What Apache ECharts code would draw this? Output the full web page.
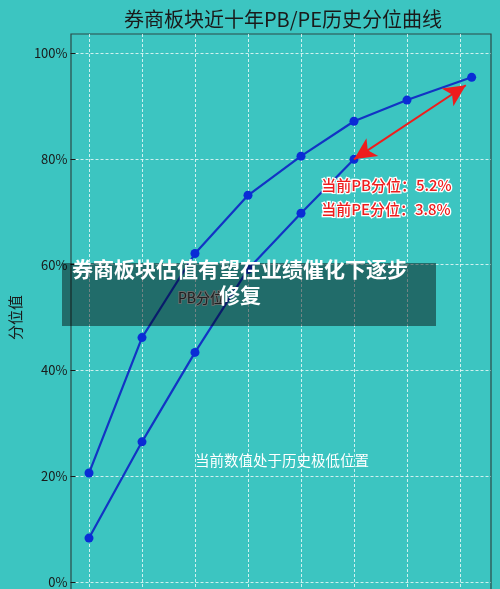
<!DOCTYPE html>
<html>
<head>
<meta charset="utf-8">
<script src="https://cdn.jsdelivr.net/npm/echarts@6/dist/echarts.min.js"></script>
<style>
  html, body { margin: 0; padding: 0; background: #3cc5c1; }
  #chart { width: 500px; height: 589px; }
</style>
</head>
<body>
<div id="chart"></div>
<script>
// 年份位置（最后一个点略超过 2022）
const pbYears = [2015, 2016, 2017, 2018, 2019, 2020, 2021, 2022.22];
const pbValues = [20.6, 46.2, 62.1, 73.1, 80.5, 87.1, 91.1, 95.4];
const peYears = [2015, 2016, 2017, 2018, 2019, 2020];
const peValues = [8.3, 26.5, 43.4, 59.1, 69.7, 79.9];
const yTicks = [0, 20, 40, 60, 80, 100];
const arrowFrom = [2020, 79.9];
const arrowTo = [2022.11, 93.9];

const chartDom = document.getElementById('chart');
const myChart = echarts.init(chartDom);

const colors = {
    line: '#1234c4',
    dot: '#0a2cd6',
    grid: 'rgba(255,255,255,0.75)',
    axis: '#2b4a48',
    red: '#ee1d1d'
};
const font = '"Noto Sans CJK SC", "Noto Sans", sans-serif';

const toPairs = (xs, ys) => xs.map((x, i) => [x, ys[i]]);

const option = {
    backgroundColor: '#3cc5c1',
    animation: false,
    title: {
        text: '券商板块近十年PB/PE历史分位曲线',
        left: 278,
        textAlign: 'center',
        top: 4,
        textStyle: { color: '#1a1a1a', fontSize: 20, fontWeight: 'normal', fontFamily: font }
    },
    grid: [
        // 0: 纵向网格（全高）
        { left: 89, right: 40, top: 34, bottom: -20 },
        // 1: 横向网格 + y 轴
        { left: 71, right: 9, top: 53, bottom: 7 },
        // 2: 数据（右侧延伸到边框）
        { left: 89, right: 9, top: 53, bottom: 7 }
    ],
    xAxis: [
        {
            gridIndex: 0, type: 'value', min: 2015, max: 2022, interval: 1,
            axisLine: { show: false }, axisTick: { show: false }, axisLabel: { show: false },
            splitLine: { show: true, lineStyle: { color: colors.grid, type: [3, 2], width: 1 } }
        },
        {
            gridIndex: 1, type: 'value', min: 0, max: 1,
            axisLine: { show: false }, axisTick: { show: false }, axisLabel: { show: false },
            splitLine: { show: false }
        },
        {
            gridIndex: 2, type: 'value', min: 2015, max: 2022.585,
            axisLine: { show: false }, axisTick: { show: false }, axisLabel: { show: false },
            splitLine: { show: false }
        }
    ],
    yAxis: [
        {
            gridIndex: 0, type: 'value', min: 0, max: 1,
            axisLine: { show: false }, axisTick: { show: false }, axisLabel: { show: false },
            splitLine: { show: false }
        },
        {
            gridIndex: 1, type: 'value', min: yTicks[0], max: yTicks[yTicks.length - 1], interval: 20,
            name: '分位值',
            nameLocation: 'middle',
            nameGap: 45,
            nameRotate: 90,
            nameTextStyle: { color: '#1a1a1a', fontSize: 15, fontFamily: font },
            axisLine: { show: false },
            axisTick: { show: true, length: 5, lineStyle: { color: '#1a1a1a' } },
            axisLabel: {
                color: '#1a1a1a', fontSize: 13, fontFamily: font, margin: 8,
                formatter: v => v + '%'
            },
            splitLine: { show: true, lineStyle: { color: colors.grid, type: [3, 2], width: 1 } }
        },
        {
            gridIndex: 2, type: 'value', min: 0, max: 100,
            axisLine: { show: false }, axisTick: { show: false }, axisLabel: { show: false },
            splitLine: { show: false }
        }
    ],
    graphic: [
        {
            type: 'rect',
            shape: { x: 71, y: 34, width: 420, height: 570 },
            style: { fill: 'none', stroke: colors.axis, lineWidth: 1.2 },
            silent: true
        },
        {
            type: 'text',
            left: 177, top: 290, z: 10,
            style: {
                text: 'PB分位', fontSize: 14, fontFamily: font, fill: '#3a3a3a',
                stroke: '#b8c4c4', lineWidth: 2
            }
        },
        {
            type: 'text',
            left: 320, top: 177, z: 10,
            style: {
                text: '当前PB分位：5.2%', fontSize: 15, fontWeight: 500, fontFamily: font, fill: colors.red,
                stroke: '#ffffff', lineWidth: 2.5
            }
        },
        {
            type: 'text',
            left: 320, top: 201, z: 10,
            style: {
                text: '当前PE分位：3.8%', fontSize: 15, fontWeight: 500, fontFamily: font, fill: colors.red,
                stroke: '#ffffff', lineWidth: 2.5
            }
        },
        {
            type: 'text',
            left: 195, top: 453, z: 10,
            style: {
                text: '当前数值处于历史极低位置', fontSize: 14.5, fontFamily: font, fill: '#ffffff'
            }
        },
        {
            type: 'rect',
            z: 20,
            shape: { x: 62, y: 263, width: 374, height: 63 },
            style: { fill: 'rgba(0,0,0,0.45)' },
            silent: true
        },
        {
            type: 'text',
            z: 21,
            x: 240, y: 282,
            style: {
                text: '券商板块估值有望在业绩催化下逐步\n修复',
                fontSize: 21, fontWeight: 'bold', fontFamily: font, fill: '#ffffff',
                align: 'center', verticalAlign: 'middle', lineHeight: 26
            }
        }
    ],
    series: [
        {
            name: 'PB分位',
            type: 'line',
            xAxisIndex: 2, yAxisIndex: 2,
            clip: false,
            data: toPairs(pbYears, pbValues),
            symbol: 'circle',
            symbolSize: 9,
            lineStyle: { width: 2.2, color: colors.line },
            itemStyle: { color: colors.dot }
        },
        {
            name: 'PE分位',
            type: 'line',
            xAxisIndex: 2, yAxisIndex: 2,
            clip: false,
            data: toPairs(peYears, peValues),
            symbol: 'circle',
            symbolSize: 9,
            lineStyle: { width: 2.2, color: colors.line },
            itemStyle: { color: colors.dot },
            markLine: {
                silent: true,
                symbol: ['arrow', 'arrow'],
                symbolSize: [16, 22],
                label: { show: false },
                lineStyle: { color: colors.red, width: 2, type: 'solid' },
                data: [[{ coord: arrowFrom }, { coord: arrowTo }]]
            }
        }
    ]
};

myChart.setOption(option);
window.addEventListener('resize', () => myChart.resize());
</script>
</body>
</html>
